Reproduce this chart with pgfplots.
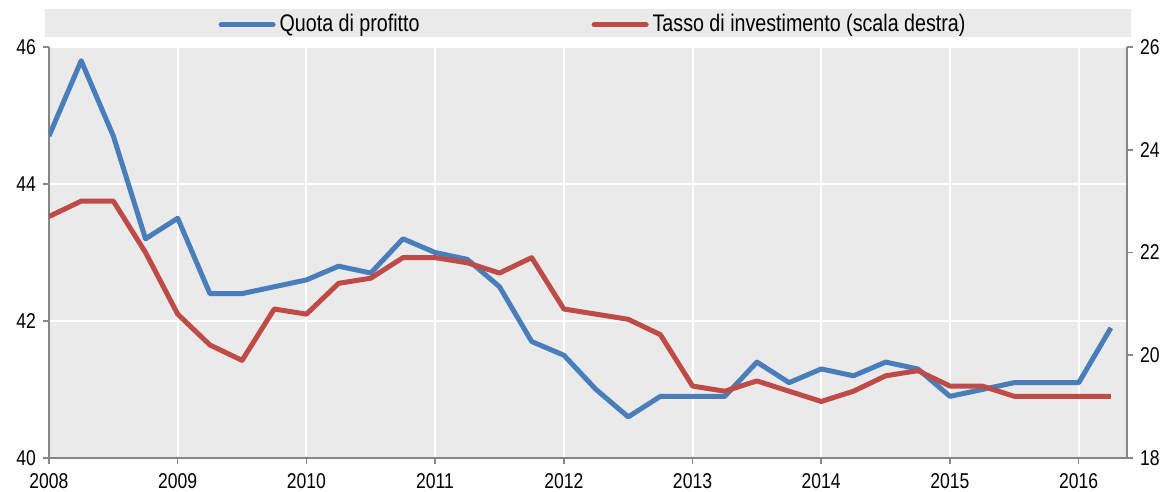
\documentclass[border=0pt]{standalone}
\usepackage{fontspec}
\setmainfont{Liberation Sans}[FakeStretch=0.82]
\usepackage{pgfplots}
\pgfplotsset{compat=1.18}
\usetikzlibrary{backgrounds}
\definecolor{bgc}{HTML}{EAEAEA}
\definecolor{axc}{HTML}{868686}
\definecolor{bl}{HTML}{4A7EBB}
\definecolor{rd}{HTML}{BE4B48}

\pgfplotstableread{
x y
2008.00 44.7
2008.25 45.8
2008.50 44.7
2008.75 43.2
2009.00 43.5
2009.25 42.4
2009.50 42.4
2009.75 42.5
2010.00 42.6
2010.25 42.8
2010.50 42.7
2010.75 43.2
2011.00 43.0
2011.25 42.9
2011.50 42.5
2011.75 41.7
2012.00 41.5
2012.25 41.0
2012.50 40.6
2012.75 40.9
2013.00 40.9
2013.25 40.9
2013.50 41.4
2013.75 41.1
2014.00 41.3
2014.25 41.2
2014.50 41.4
2014.75 41.3
2015.00 40.9
2015.25 41.0
2015.50 41.1
2015.75 41.1
2016.00 41.1
2016.25 41.9
}\quota

\pgfplotstableread{
x y
2008.00 22.7
2008.25 23.0
2008.50 23.0
2008.75 22.0
2009.00 20.8
2009.25 20.2
2009.50 19.9
2009.75 20.9
2010.00 20.8
2010.25 21.4
2010.50 21.5
2010.75 21.9
2011.00 21.9
2011.25 21.8
2011.50 21.6
2011.75 21.9
2012.00 20.9
2012.25 20.8
2012.50 20.7
2012.75 20.4
2013.00 19.4
2013.25 19.3
2013.50 19.5
2013.75 19.3
2014.00 19.1
2014.25 19.3
2014.50 19.6
2014.75 19.7
2015.00 19.4
2015.25 19.4
2015.50 19.2
2015.75 19.2
2016.00 19.2
2016.25 19.2
}\tasso

\begin{document}
\begin{tikzpicture}
\pgfplotsset{every axis/.append style={
  scale only axis, width=539pt, height=205.5pt,
  xmin=2008, xmax=2016.375,
  /pgf/number format/assume math mode=true,
  /pgf/number format/1000 sep={},
  tick label style={font=\fontsize{10.7}{12}\selectfont, text=black},
  xticklabel style={yshift=-1pt},
  major tick length=3pt, tick align=outside,
  tick style={axc, line width=0.75pt},
  axis line style={axc, line width=0.75pt, -},
  xtick={2008,...,2016},
}}
\begin{axis}[name=main,
  axis background/.style={fill=bgc},
  axis x line*=bottom, axis y line*=left,
  ymin=40, ymax=46, ytick={40,42,44,46},
  grid=major, major grid style={white, line width=1pt},
  legend style={at={(0.5056,1.054)}, anchor=center, legend columns=2, draw=none, fill=none,
    font=\fontsize{12}{14}\selectfont,
    /tikz/every even column/.append style={column sep=84pt},
    cells={anchor=west}},
  legend image code/.code={\draw[#1, line cap=round] (0pt,0pt) -- (26pt,0pt);},
]
\addplot[bl, line width=2.5pt, line join=round] table {\quota};
\addlegendentry{Quota di profitto}
\addlegendimage{rd, line width=2.5pt}
\addlegendentry{Tasso di investimento (scala destra)}
\end{axis}
\begin{axis}[
  axis y line*=right, axis x line=none,
  ymin=18, ymax=26, ytick={18,20,22,24,26},
]
\addplot[rd, line width=2.5pt, line join=round] table {\tasso};
\end{axis}
\begin{scope}[on background layer]
\fill[bgc] ([xshift=-2pt,yshift=5pt]main.north west) rectangle ([xshift=2pt,yshift=19pt]main.north east);
\end{scope}
\pgfresetboundingbox
\path ([xshift=-24.5pt,yshift=-17pt]main.south west) rectangle ([xshift=21.5pt,yshift=23.5pt]main.north east);
\end{tikzpicture}
\end{document}
